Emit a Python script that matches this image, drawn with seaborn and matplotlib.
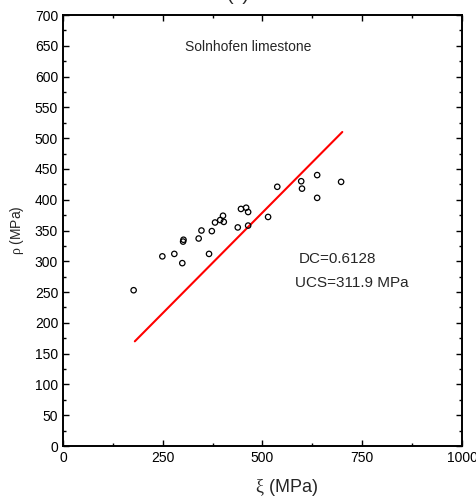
import matplotlib
matplotlib.use("Agg")
import matplotlib.pyplot as plt
import seaborn as sns
import pandas as pd
from matplotlib.ticker import MultipleLocator

# Data
xi = [177, 249, 279, 299, 301, 302, 340, 347, 366, 373, 381, 394, 401,
      403, 438, 446, 459, 464, 464, 514, 537, 597, 599, 637, 637, 697]
rho = [253, 308, 312, 297, 332, 335, 337, 350, 312, 349, 363, 367, 374,
       364, 355, 385, 387, 380, 358, 372, 421, 430, 418, 440, 403, 429]
fit_x = [180, 700]
fit_y = [170, 510]

sns.set_style("ticks")
plt.rcParams['font.family'] = ['Liberation Sans', 'DejaVu Sans']
plt.rcParams['mathtext.fontset'] = 'custom'
plt.rcParams['mathtext.rm'] = 'Liberation Serif'
plt.rcParams['mathtext.it'] = 'Liberation Serif'

fig = plt.figure(figsize=(4.77, 5.01), dpi=100)
ax = fig.add_axes([63/477, 55/501, 399/477, 431/501])

pts = pd.DataFrame({"xi": xi, "rho": rho})
line = pd.DataFrame({"x": fit_x, "y": fit_y})

sns.lineplot(data=line, x="x", y="y", ax=ax, color="#ff0000", linewidth=1.5)
sns.scatterplot(data=pts, x="xi", y="rho", ax=ax, marker="o", s=15,
                facecolor="none", edgecolor="black", linewidth=0.9, zorder=3)

ax.set_xlim(0, 1000)
ax.set_ylim(0, 700)
ax.xaxis.set_major_locator(MultipleLocator(250))
ax.xaxis.set_minor_locator(MultipleLocator(125))
ax.yaxis.set_major_locator(MultipleLocator(50))
ax.yaxis.set_minor_locator(MultipleLocator(25))
ax.tick_params(which='both', direction='in', top=True, right=True,
               labelsize=10, colors='black', width=1.0)
ax.tick_params(which='major', length=4)
ax.tick_params(which='minor', length=2.5)
for s in ax.spines.values():
    s.set_linewidth(1.4)
    s.set_color('black')

ax.set_xlabel(r'$\mathrm{\xi}$ (MPa)', fontsize=13)
ax.xaxis.set_label_coords(0.56, -0.072)
ax.set_ylabel(r'$\mathrm{\rho}$ (MPa)', fontsize=10, labelpad=6)

ax.text(305, 648, "Solnhofen limestone", fontsize=10, va='center', ha='left')
ax.text(592, 303, "DC=0.6128", fontsize=11, va='center', ha='left')
ax.text(581, 264, "UCS=311.9 MPa", fontsize=11, va='center', ha='left')

fig.text(0.5, 1.008, "(c)", fontsize=14, ha='center', va='center')

fig.savefig("out.png", dpi=100)
